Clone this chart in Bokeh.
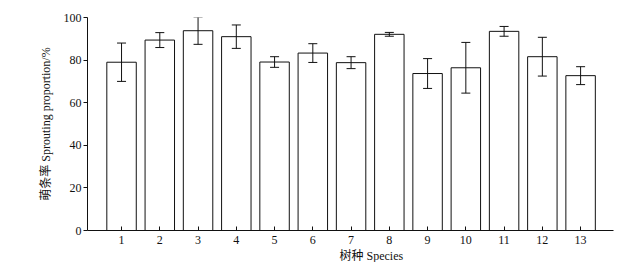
from bokeh.plotting import figure
from bokeh.models import Range1d, ColumnDataSource, Whisker, TeeHead, FixedTicker, Title
from bokeh.embed import file_html
from bokeh.resources import INLINE

species = [1, 2, 3, 4, 5, 6, 7, 8, 9, 10, 11, 12, 13]
sprouting = [79.0, 89.4, 93.8, 91.0, 79.1, 83.3, 78.8, 92.1, 73.7, 76.4, 93.5, 81.6, 72.7]
err = [9.0, 3.5, 6.4, 5.5, 2.5, 4.4, 2.8, 0.9, 7.0, 11.9, 2.3, 9.1, 4.2]
y_ticks = [0, 20, 40, 60, 80, 100]

upper = [v + e for v, e in zip(sprouting, err)]
lower = [v - e for v, e in zip(sprouting, err)]
src = ColumnDataSource(dict(x=species, top=sprouting, upper=upper, lower=lower))

FONT = "Liberation Serif, Noto Sans CJK SC"
INK = "#111111"

p = figure(width=628, height=260, output_backend="svg", toolbar_location=None,
           x_range=Range1d(0.11, 13.86), y_range=Range1d(0, 100),
           min_border_left=87, min_border_top=17, min_border_bottom=20, min_border_right=15,
           frame_width=526, frame_height=213)
p.outline_line_color = None
p.grid.visible = False
p.background_fill_color = "white"

p.vbar(x="x", top="top", width=0.77, bottom=0, source=src,
       fill_color="white", line_color=INK, line_width=1)

w = Whisker(base="x", upper="upper", lower="lower", source=src, level="overlay",
            line_color=INK, line_width=1,
            upper_head=TeeHead(size=9, line_color=INK, line_width=1),
            lower_head=TeeHead(size=9, line_color=INK, line_width=1))
p.add_layout(w)

xa = p.xaxis[0]
xa.ticker = FixedTicker(ticks=species)
xa.major_tick_in = 4
xa.major_tick_out = 0
xa.minor_tick_line_color = None
xa.axis_line_color = INK
xa.major_tick_line_color = INK
xa.major_label_text_font = FONT
xa.major_label_text_font_size = "12px"
xa.major_label_text_color = INK
xa.major_label_standoff = 5

ya = p.yaxis[0]
ya.ticker = FixedTicker(ticks=y_ticks)
ya.major_tick_in = 0
ya.major_tick_out = 4
ya.minor_tick_line_color = None
ya.axis_line_color = INK
ya.major_tick_line_color = INK
ya.major_label_text_font = FONT
ya.major_label_text_font_size = "12px"
ya.major_label_text_color = INK
ya.major_label_standoff = 2
ya.axis_label = "萌条率 Sprouting proportion/%"
ya.axis_label_text_font = FONT
ya.axis_label_text_font_size = "12px"
ya.axis_label_text_font_style = "normal"
ya.axis_label_text_color = INK
ya.axis_label_standoff = 8

t = Title(text="树种 Species", align="left", offset=252, text_font=FONT,
          text_font_size="12px", text_font_style="normal", text_color=INK, standoff=0)
p.add_layout(t, "below")

open("out.html", "w").write(file_html(p, INLINE))
